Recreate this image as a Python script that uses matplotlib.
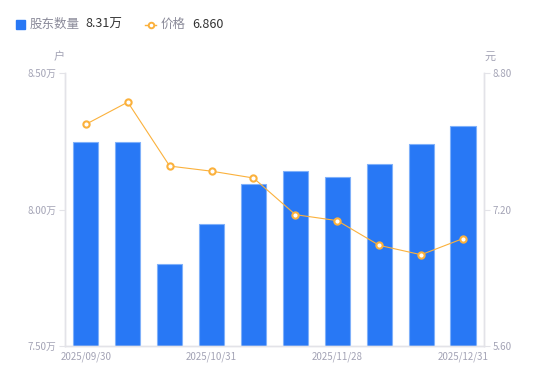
import numpy as np
import matplotlib.pyplot as plt

plt.rcParams['font.family'] = ['Noto Sans CJK SC', 'DejaVu Sans']

# 数据
dates = ['2025/09/30', '', '', '2025/10/31', '', '', '2025/11/28', '', '', '2025/12/31']
holders = [8.247, 8.247, 7.80, 7.947, 8.093, 8.141, 8.119, 8.167, 8.24, 8.305]  # 万户
price = [8.20, 8.46, 7.71, 7.65, 7.57, 7.14, 7.07, 6.78, 6.67, 6.86]

blue = '#2878f5'
orange = '#fbb13c'
grey = '#a3a3b5'
axis_c = '#e3e3e8'

fig = plt.figure(figsize=(5.5, 3.81), dpi=100)
ax = fig.add_axes([0.118, 0.092, 0.762, 0.716])
x = np.arange(len(holders))

ax.bar(x, holders, width=0.6, color=blue, edgecolor='#7fb0fa', linewidth=0.8, zorder=2)
ax.set_ylim(7.5, 8.5)
ax.set_xlim(-0.5, len(holders) - 0.5)
ax.set_yticks([7.5, 8.0, 8.5])
ax.set_yticklabels(['7.50万', '8.00万', '8.50万'])
ax.set_xticks(x)
ax.set_xticklabels(dates)

ax2 = ax.twinx()
ax2.plot(x, price, color=orange, lw=0.8, marker='o', ms=4.5, mfc='white',
         mec=orange, mew=1.5, zorder=3)
ax2.set_ylim(5.6, 8.8)
ax2.set_yticks([5.6, 7.2, 8.8])
ax2.set_yticklabels(['5.60', '7.20', '8.80'])

for a in (ax, ax2):
    for s in a.spines.values():
        s.set_color(axis_c)
        s.set_linewidth(1)
    a.spines['top'].set_visible(False)
    a.tick_params(colors=grey, labelsize=7, length=4, width=0.8, pad=2)
    a.tick_params(axis='y', color=axis_c)
ax.tick_params(axis='x', length=0, pad=4)
for lab in ax.get_yticklabels() + ax2.get_yticklabels() + ax.get_xticklabels():
    lab.set_color(grey)

# 单位
fig.text(59 / 550, 1 - 57 / 381, '户', color=grey, fontsize=8, ha='center', va='center')
fig.text(490 / 550, 1 - 57 / 381, '元', color=grey, fontsize=8, ha='center', va='center')

# 图例
ly = 1 - 24.5 / 381
fig.patches.append(plt.Rectangle((16 / 550, 1 - 29 / 381), 9 / 550, 9 / 381,
                                 transform=fig.transFigure, color=blue))
fig.text(30 / 550, ly, '股东数量', color='#8a8a99', fontsize=9, va='center')
fig.text(85 / 550, ly, '8.31万', color='#333333', fontsize=9, va='center')
fig.lines.append(plt.Line2D([145 / 550, 156 / 550], [ly, ly], transform=fig.transFigure,
                            color=orange, lw=1))
fig.lines.append(plt.Line2D([150.5 / 550], [ly], transform=fig.transFigure,
                            color=orange, marker='o', ms=4, mfc='white', mec=orange, mew=1.4))
fig.text(161 / 550, ly, '价格', color='#8a8a99', fontsize=9, va='center')
fig.text(192 / 550, ly, '6.860', color='#333333', fontsize=9, va='center')

plt.savefig('out.png', dpi=100)
